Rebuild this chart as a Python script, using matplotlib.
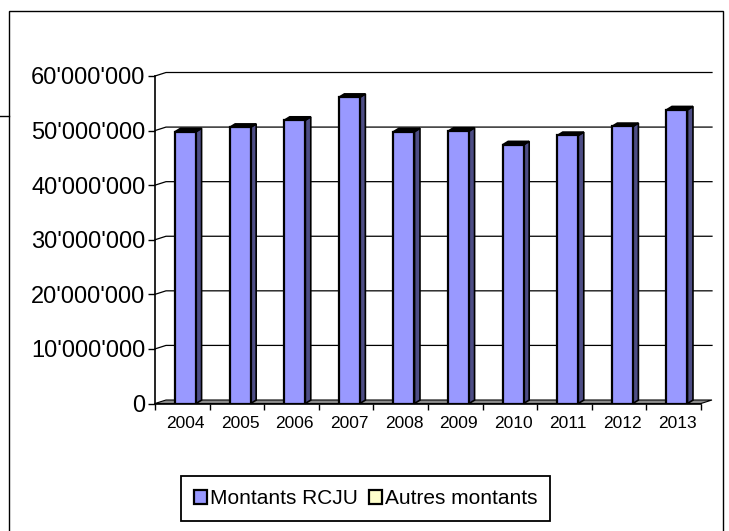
import numpy as np
import matplotlib
matplotlib.use('Agg')
import matplotlib.pyplot as plt
from matplotlib.patches import Polygon, Patch, Rectangle
from matplotlib.lines import Line2D

plt.rcParams['font.family'] = ['Liberation Sans', 'DejaVu Sans']

# data
years = ['2004', '2005', '2006', '2007', '2008', '2009', '2010', '2011', '2012', '2013']
montants_rcju = [49.8e6, 50.6e6, 51.9e6, 56.1e6, 49.8e6, 49.9e6, 47.4e6, 49.1e6, 50.75e6, 53.8e6]
autres_montants = [0, 0, 0, 0, 0, 0, 0, 0, 0, 0]
y_ticks = [0, 10e6, 20e6, 30e6, 40e6, 50e6, 60e6]

W, H = 729, 531
fig = plt.figure(figsize=(W / 100, H / 100), dpi=100)
ax = fig.add_axes([155 / W, (H - 403.5) / H, 546 / W, 327.5 / H])
ax.set_xlim(0, len(years))
ax.set_ylim(0, y_ticks[-1])
ax.patch.set_visible(False)

# pixel -> data units, used for the fake 3D depth
ux = len(years) / 546.0
uy = y_ticks[-1] / 327.5
wdx, wdy = 11 * ux, 3.5 * uy      # back wall offset
bdx, bdy = 5.5 * ux, 3.4 * uy     # bar depth

# back wall gridlines
for t in y_ticks[1:]:
    ax.plot([0, wdx, len(years) + wdx], [t, t + wdy, t + wdy], color='black',
            lw=0.9, clip_on=False, zorder=1)

# floor
floor = Polygon([(0, 0), (len(years), 0), (len(years) + wdx, wdy), (wdx, wdy)],
                closed=True, fc='#8c8c8c', ec='black', lw=0.8, clip_on=False, zorder=1.5)
ax.add_patch(floor)

w = 21 * ux
xc = np.arange(len(years)) + 0.5 + 0.06

ax.bar(xc, autres_montants, width=w, color='#FFFFCC', edgecolor='none', zorder=1.6)

for x, v in zip(xc, montants_rcju):
    xl, xr = x - w / 2, x + w / 2
    side = Polygon([(xr, 0), (xr + bdx, bdy), (xr + bdx, v + bdy), (xr, v)],
                   closed=True, fc='#4D4D85', ec='black', lw=1.2, clip_on=False, zorder=2)
    top = Polygon([(xl, v), (xr, v), (xr + bdx, v + bdy), (xl + bdx, v + bdy)],
                  closed=True, fc='black', ec='black', lw=1.2, clip_on=False, zorder=2)
    ax.add_patch(side)
    ax.add_patch(top)

ax.bar(xc, montants_rcju, width=w, color='#9999FF', edgecolor='black', lw=1.6, zorder=3)

for s in ['top', 'right']:
    ax.spines[s].set_visible(False)
for s in ['left', 'bottom']:
    ax.spines[s].set_linewidth(1.2)
    ax.spines[s].set_zorder(4)

ax.set_yticks(y_ticks)
ax.set_yticklabels(["{:,}".format(int(t)).replace(',', "'") for t in y_ticks])
ax.tick_params(axis='y', direction='out', length=5, width=1, labelsize=17, pad=2)

ax.set_xticks(np.arange(len(years) + 1))
ax.set_xticklabels([])
ax.set_xticks(xc, minor=True)
ax.set_xticklabels(years, minor=True)
ax.tick_params(axis='x', which='major', direction='out', length=4, width=1)
ax.tick_params(axis='x', which='minor', length=0, labelsize=12.5, pad=9)

# chart area border
fig.add_artist(Rectangle((9 / W, -0.05), (723 - 9) / W, (H - 11) / H + 0.05,
                         transform=fig.transFigure, fill=False, ec='black', lw=1))
fig.add_artist(Line2D([0, 9 / W], [1 - 116 / H, 1 - 116 / H], transform=fig.transFigure,
                      color='black', lw=1))

handles = [Patch(fc='#9999FF', ec='black', lw=1.6, label='Montants RCJU'),
           Patch(fc='#FFFFCC', ec='black', lw=1.6, label='Autres montants')]
leg = fig.legend(handles=handles, loc='center', bbox_to_anchor=(365.5 / W, 1 - 498.5 / H),
                 ncol=2, frameon=True, fancybox=False, edgecolor='black', framealpha=1,
                 fontsize=15, handlelength=0.65, handleheight=0.65, handletextpad=0.12,
                 columnspacing=0.55, borderpad=0.62)
leg.get_frame().set_linewidth(1.3)

fig.savefig('out.png', dpi=100)
